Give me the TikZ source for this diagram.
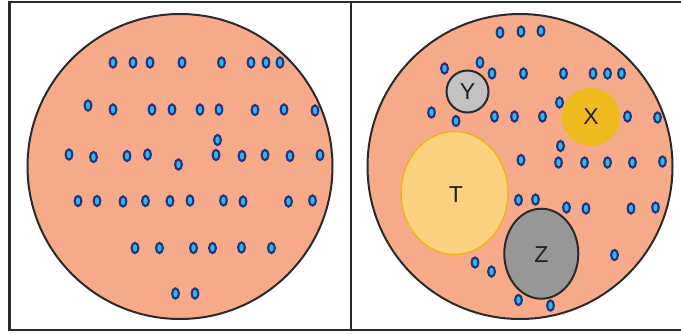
\documentclass[tikz,border=0pt]{standalone}
\usepackage{fontspec}
\setmainfont{Liberation Sans}
\usetikzlibrary{shapes.geometric}
\definecolor{salmon}{HTML}{F7AA8A}
\definecolor{dotfill}{HTML}{2CB8EA}
\definecolor{dotline}{HTML}{1F3582}
\definecolor{frame}{HTML}{2A2A2A}
\definecolor{ygray}{HTML}{C2C2C2}
\definecolor{zgray}{HTML}{979797}
\definecolor{xgold}{HTML}{EEBA1E}
\definecolor{tfill}{HTML}{FCD17F}
\definecolor{tline}{HTML}{EFB61C}
\definecolor{txt}{HTML}{231F20}
\begin{document}
\begin{tikzpicture}[x=1pt,y=-1pt,
  panel/.style={draw=frame,line width=2.5pt},
  bigcircle/.style={draw=frame,line width=2pt,fill=salmon},
  particle/.style={draw=dotline,line width=2.1pt,fill=dotfill},
  lbl/.style={font=\fontsize{23}{23}\selectfont,text=txt,inner sep=0pt}]
\useasboundingbox (0,0) rectangle (681,333);
% panels
\draw[panel] (9.7,2) rectangle (351,330);
\draw[panel] (351,2) -- (682,2);
\draw[panel] (351,330) -- (682,330);
% big circles
\node[bigcircle,circle,minimum size=305pt,inner sep=0pt] (left) at (180,166.5) {};
\node[bigcircle,circle,minimum size=305pt,inner sep=0pt] (right) at (520,166.5) {};
% left particles
\foreach \x/\y in {113/62.5,133/62.5,150/62.5,182/62.5,221.5/62.5,251/62.5,266/62.5,280/62.5,
  88/105.5,113/109.5,152/109.5,172/109.5,200/109.5,219/109.5,255/110,284/109.5,315/110.5,
  217.5/140,
  69/154.5,93.5/157,127/156,147.5/154.5,178.5/164.5,216/155,242/156,265/155,290/156,320/155,
  78/201,97/201,123/201.5,145.5/201,170/201,190/200.5,223.5/200.5,243/201.5,288.5/201.5,312.5/200.5,
  135/248,159.5/248,193.5/248,212.5/248,241.5/247.5,271.5/248,
  175.5/293.5,195/293.5}
  \draw[particle] (\x,\y) ellipse (3.4pt and 5.1pt);
% right particles
\foreach \x/\y in {500/32.5,521/31.5,541/31,
  444.5/68.5,480/62.5,492/73.5,523.5/73.5,563.5/73.5,593/73.5,607.5/73.5,621.5/73.5,
  431.5/112.5,456/121,494.5/116.5,514.5/116.5,542.5/116.5,559.5/102.5,627.5/116.5,657.5/117.5,
  560.5/146,
  521/160,558.5/162.5,584.5/162.5,607.5/162.5,632.5/162.5,662.5/161.5,
  518.5/200,535.5/199.5,566.5/207.5,586/208.5,631/208.5,655.5/207.5,
  614.5/255,475/262.5,491.5/271.5,518.5/300,550.5/305.5}
  \draw[particle] (\x,\y) ellipse (3.4pt and 5.1pt);
% regions
\node[circle,draw=frame,line width=2pt,fill=ygray,minimum size=42pt,inner sep=0pt] (Y) at (467.5,91.5) {};
\node[lbl] at (Y) {Y};
\node[circle,fill=xgold,minimum size=58pt,inner sep=0pt] (X) at (591,117) {};
\node[lbl] at (X) {X};
\node[ellipse,draw=tline,line width=1.5pt,fill=tfill,minimum width=107pt,minimum height=123pt,inner sep=0pt] (T) at (454.5,193) {};
\node[lbl] at (456,194.5) {T};
\node[ellipse,draw=frame,line width=2pt,fill=zgray,minimum width=74pt,minimum height=90pt,inner sep=0pt] (Z) at (541.3,253.7) {};
\node[lbl] at (541.5,254.5) {Z};
\end{tikzpicture}
\end{document}
